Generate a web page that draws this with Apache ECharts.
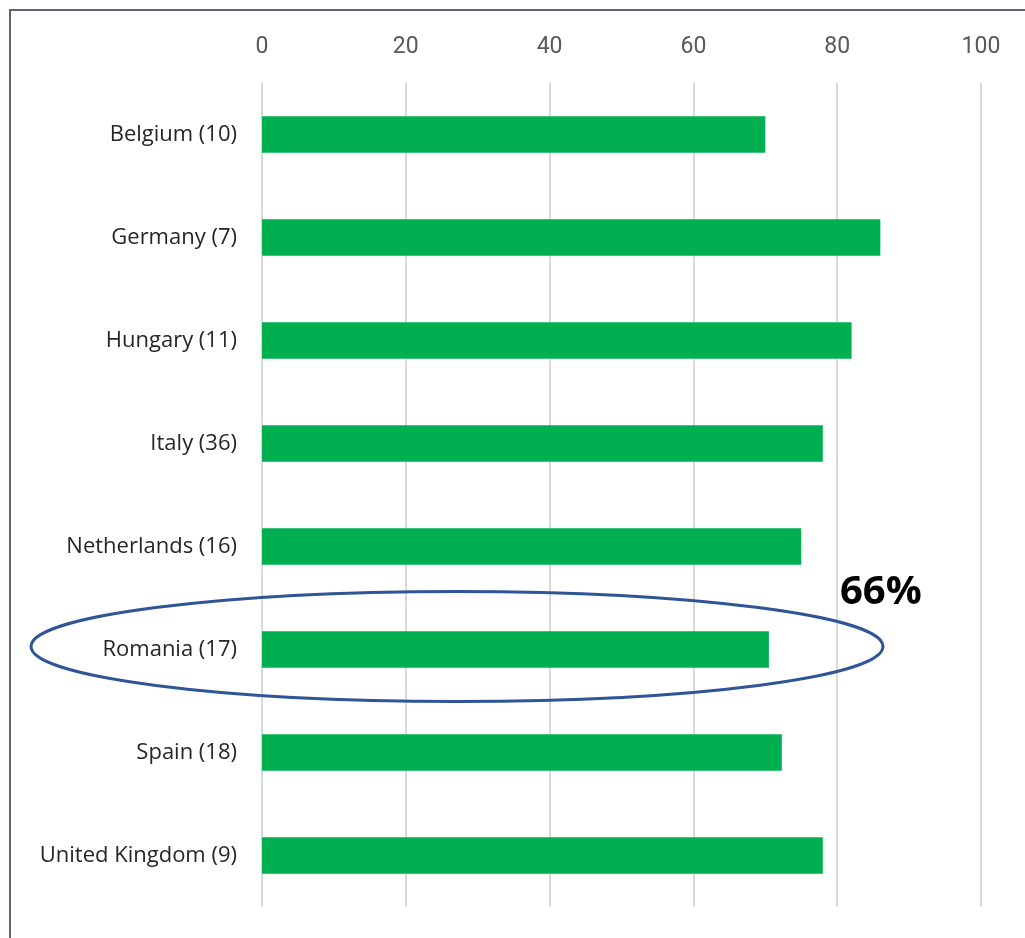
<!DOCTYPE html>
<html>
<head>
<meta charset="utf-8">
<script src="https://cdn.jsdelivr.net/npm/echarts@6/dist/echarts.min.js"></script>
<style>
html,body{margin:0;padding:0;background:#fff;}
#chart{width:1025px;height:938px;}
</style>
</head>
<body>
<div id="chart"></div>
<script>
const categories = ['Belgium (10)','Germany (7)','Hungary (11)','Italy (36)','Netherlands (16)','Romania (17)','Spain (18)','United Kingdom (9)'];
const values = [70, 86, 82, 78, 75, 70.5, 72.3, 78];
const axisTicks = [0, 20, 40, 60, 80, 100];
const highlightCategory = 'Romania (17)';
const annotationText = '66%';

const chart = echarts.init(document.getElementById('chart'));
const option = {
  animation: false,
  backgroundColor: '#fff',
  grid: {left: 262, right: 44, top: 83, bottom: 31},
  xAxis: {
    type: 'value', position: 'top',
    min: axisTicks[0], max: axisTicks[axisTicks.length-1], interval: 20,
    axisLine: {show: false}, axisTick: {show: false},
    splitLine: {show: true, lineStyle: {color: '#d9d9d9', width: 2}},
    axisLabel: {color: '#595959', fontSize: 23, fontFamily: 'Liberation Sans Narrow, Roboto, sans-serif', margin: 24}
  },
  yAxis: {
    type: 'category', data: categories, inverse: true,
    axisLine: {show: false}, axisTick: {show: false},
    axisLabel: {color: '#262626', fontSize: 22, fontFamily: 'Open Sans, sans-serif', margin: 25}
  },
  series: [{
    type: 'bar', data: values, barCategoryGap: '64.5%',
    itemStyle: {color: '#00B050'}
  }]
};
chart.setOption(option);

const p = chart.convertToPixel({xAxisIndex: 0, yAxisIndex: 0}, [0, categories.indexOf(highlightCategory)]);
const cy = p[1] - 3;
chart.setOption({
  graphic: [
    {type: 'rect', shape: {x: 10, y: 10, width: 1040, height: 960}, style: {fill: 'none', stroke: '#5f6673', lineWidth: 2}, silent: true},
    {type: 'ellipse', shape: {cx: 457, cy: cy, rx: 426, ry: 55}, style: {fill: 'none', stroke: '#2F5597', lineWidth: 3}, silent: true},
    {type: 'text', x: 840, y: cy - 54, style: {text: annotationText, font: 'bold 40px "Open Sans", sans-serif', fill: '#000', textVerticalAlign: 'middle'}, silent: true}
  ]
});
</script>
</body>
</html>
